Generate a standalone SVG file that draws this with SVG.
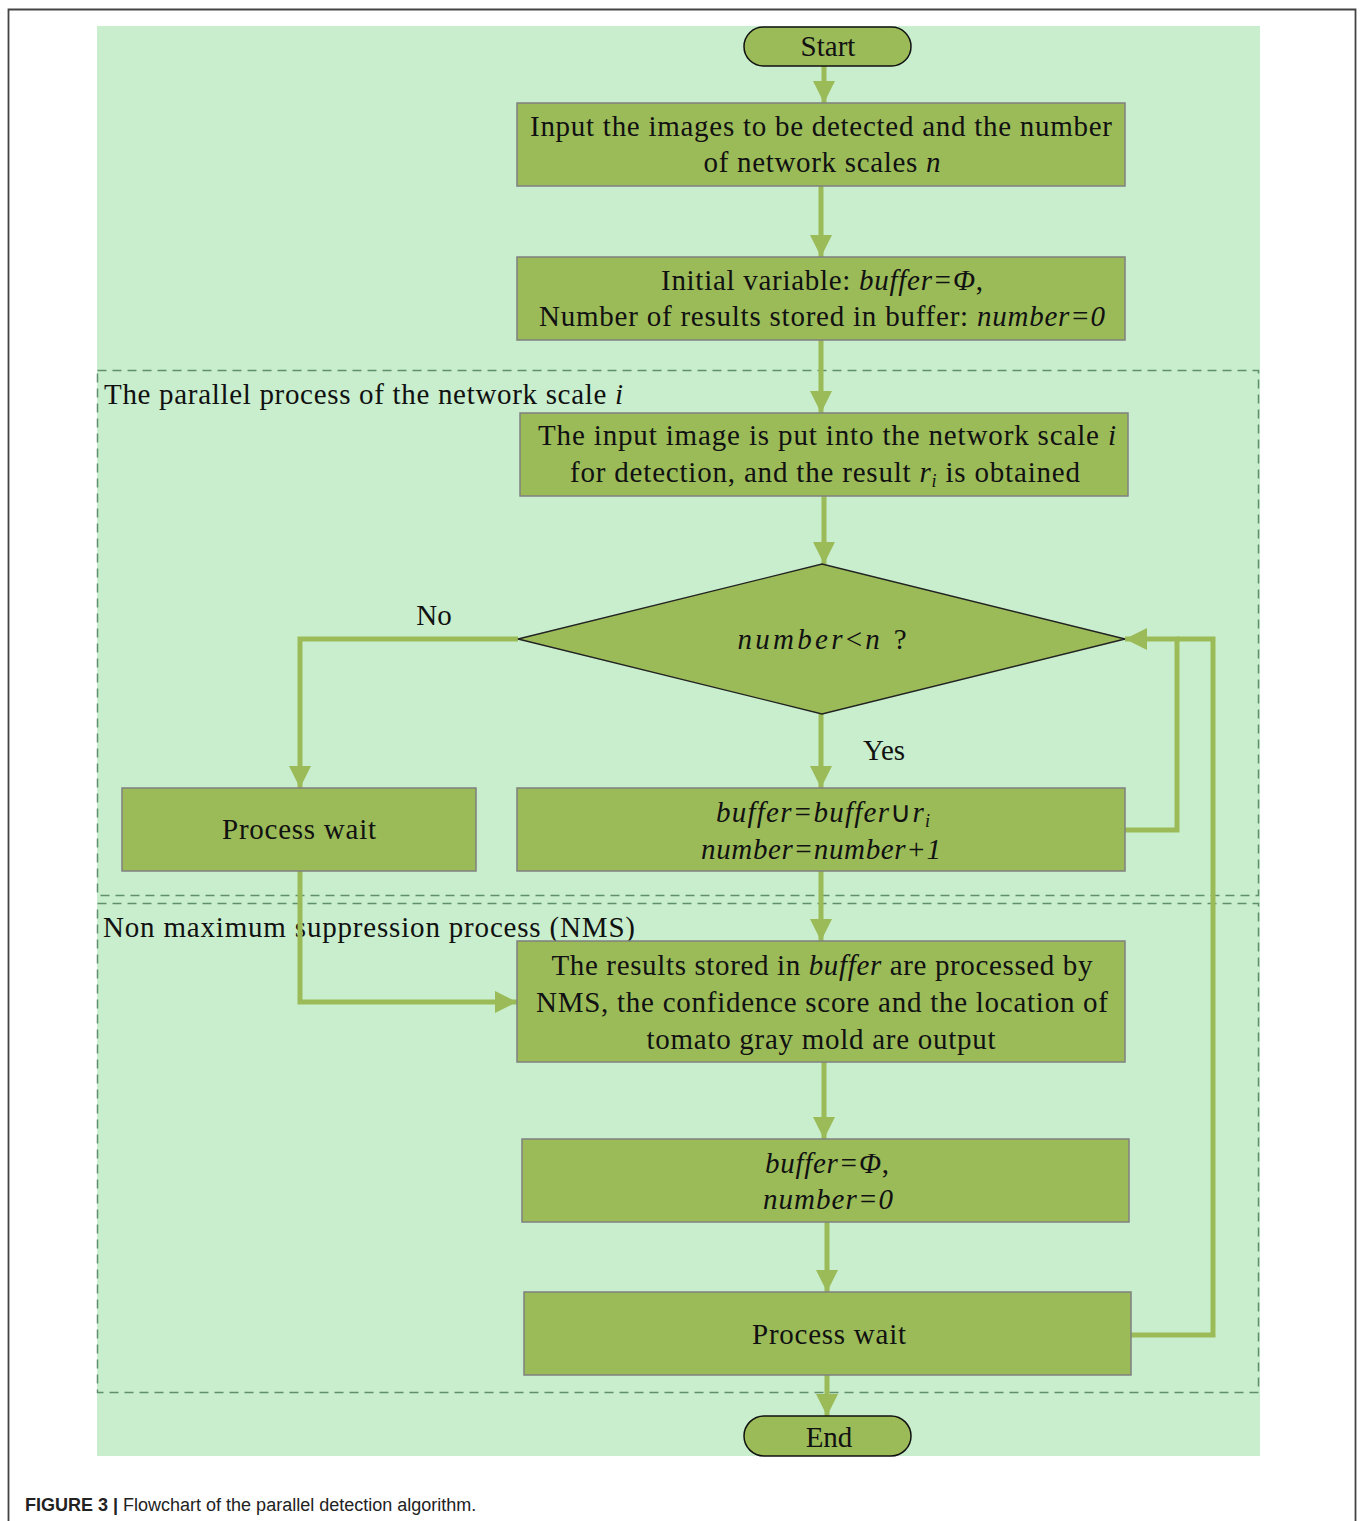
<svg xmlns="http://www.w3.org/2000/svg" width="1360" height="1521" viewBox="0 0 1360 1521">
<defs>
<style>
.t{font-family:"Liberation Serif","Times New Roman",serif;font-size:29px;fill:#111;text-anchor:middle}
.tl{font-family:"Liberation Serif","Times New Roman",serif;font-size:29px;fill:#111}
.i{font-style:italic}
.box{fill:#9bbb59;stroke:#808080;stroke-width:1.5}
.term{fill:#9bbb59;stroke:#111;stroke-width:1.5}
.dash{fill:none;stroke:#5f8f6c;stroke-width:1.5;stroke-dasharray:9,6}
.c{fill:none;stroke:#9bbb59;stroke-width:5}
</style>
<marker id="ah" viewBox="0 0 10 10" refX="10" refY="5" markerWidth="4.4" markerHeight="4.4" markerUnits="strokeWidth" orient="auto">
<path d="M0,0 L10,5 L0,10 z" fill="#9bbb59"/>
</marker>
</defs>
<rect x="0" y="0" width="1360" height="1521" fill="#fff"/>
<path d="M8.5,1521 V9.5 H1355.5 V1521" fill="none" stroke="#444" stroke-width="1.8"/>
<rect x="97" y="26" width="1163" height="1430" fill="#c8eecd"/>
<rect class="dash" x="97.5" y="370.5" width="1161" height="525"/>
<rect class="dash" x="97.5" y="903.5" width="1161" height="489"/>
<text class="tl" x="104" y="404" textLength="519" lengthAdjust="spacing">The parallel process of the network scale <tspan class="i">i</tspan></text>
<text class="tl" x="103" y="937" textLength="532" lengthAdjust="spacing">Non maximum suppression process (NMS)</text>

<g id="connectors">
<line class="c" x1="824" y1="66" x2="824" y2="103" marker-end="url(#ah)"/>
<line class="c" x1="821" y1="186" x2="821" y2="257" marker-end="url(#ah)"/>
<line class="c" x1="821" y1="340" x2="821" y2="413" marker-end="url(#ah)"/>
<line class="c" x1="824" y1="496" x2="824" y2="564" marker-end="url(#ah)"/>
<line class="c" x1="821" y1="714" x2="821" y2="788" marker-end="url(#ah)"/>
<polyline class="c" points="518,639 300,639 300,788" marker-end="url(#ah)"/>
<polyline class="c" points="1125,830 1177,830 1177,639 1125,639" marker-end="url(#ah)"/>
<polyline class="c" points="1131,1335 1213,1335 1213,639 1177,639"/>
<polyline class="c" points="300,871 300,1002 517,1002" marker-end="url(#ah)"/>
<line class="c" x1="821" y1="871" x2="821" y2="941" marker-end="url(#ah)"/>
<line class="c" x1="824" y1="1062" x2="824" y2="1139" marker-end="url(#ah)"/>
<line class="c" x1="827" y1="1222" x2="827" y2="1292" marker-end="url(#ah)"/>
<line class="c" x1="827" y1="1375" x2="827" y2="1416" marker-end="url(#ah)"/>
<text class="t" x="434" y="625">No</text>
<text class="t" x="884" y="760">Yes</text>
</g>

<g id="start">
<rect class="term" x="744" y="27" width="167" height="39" rx="19.5"/>
<text class="t" x="828" y="56">Start</text>
</g>
<g id="input">
<rect class="box" x="517" y="103" width="608" height="83"/>
<text class="t" x="821" y="136" textLength="582" lengthAdjust="spacing">Input the images to be detected and the number</text>
<text class="t" x="822" y="172" textLength="237" lengthAdjust="spacing">of network scales <tspan class="i">n</tspan></text>
</g>
<g id="init">
<rect class="box" x="517" y="257" width="608" height="83"/>
<text class="t" x="822" y="290" textLength="322" lengthAdjust="spacing">Initial variable: <tspan class="i">buffer=Φ</tspan>,</text>
<text class="t" x="822" y="326" textLength="566" lengthAdjust="spacing">Number of results stored in buffer: <tspan class="i">number=0</tspan></text>
</g>
<g id="detect">
<rect class="box" x="520" y="413" width="608" height="83"/>
<text class="t" x="827" y="445" textLength="578" lengthAdjust="spacing">The input image is put into the network scale  <tspan class="i">i</tspan></text>
<text class="t" x="825" y="482" textLength="510" lengthAdjust="spacing">for detection, and the result <tspan class="i">r</tspan><tspan class="i" font-size="18" dy="5">i</tspan><tspan dy="-5">  is obtained</tspan></text>
</g>
<g id="decision">
<polygon points="518,639 822,564 1125,639 822,714" fill="#9bbb59" stroke="#222" stroke-width="1.3"/>
<text class="t" x="822" y="649" textLength="169" lengthAdjust="spacing"><tspan class="i">number</tspan>&lt;<tspan class="i">n</tspan>  ?</text>
</g>
<g id="wait1">
<rect class="box" x="122" y="788" width="354" height="83"/>
<text class="t" x="299" y="839" textLength="154" lengthAdjust="spacing">Process wait</text>
</g>
<g id="update">
<rect class="box" x="517" y="788" width="608" height="83"/>
<text class="t" x="823" y="822" textLength="214" lengthAdjust="spacing"><tspan class="i">buffer=buffer</tspan>∪<tspan class="i">r</tspan><tspan class="i" font-size="18" dy="5">i</tspan></text>
<text class="t" x="821" y="859" textLength="240" lengthAdjust="spacing"><tspan class="i">number=number+1</tspan></text>
</g>
<g id="nms">
<rect class="box" x="517" y="941" width="608" height="121"/>
<text class="t" x="822" y="975" textLength="541" lengthAdjust="spacing">The results stored in <tspan class="i">buffer</tspan> are processed by</text>
<text class="t" x="822" y="1012" textLength="572" lengthAdjust="spacing">NMS, the confidence score and the location of</text>
<text class="t" x="821" y="1049" textLength="349" lengthAdjust="spacing">tomato gray mold are output</text>
</g>
<g id="reset">
<rect class="box" x="522" y="1139" width="607" height="83"/>
<text class="t" x="827" y="1173" textLength="124" lengthAdjust="spacing"><tspan class="i">buffer=Φ</tspan>,</text>
<text class="t" x="828" y="1209" textLength="130" lengthAdjust="spacing"><tspan class="i">number=0</tspan></text>
</g>
<g id="wait2">
<rect class="box" x="524" y="1292" width="607" height="83"/>
<text class="t" x="829" y="1344" textLength="154" lengthAdjust="spacing">Process wait</text>
</g>
<g id="end">
<rect class="term" x="744" y="1416" width="167" height="40" rx="20"/>
<text class="t" x="829" y="1447">End</text>
</g>
<text x="25" y="1511" font-family="'Liberation Sans',Arial,sans-serif" font-size="18" fill="#222"><tspan font-weight="bold">FIGURE 3 |</tspan> Flowchart of the parallel detection algorithm.</text>
</svg>
